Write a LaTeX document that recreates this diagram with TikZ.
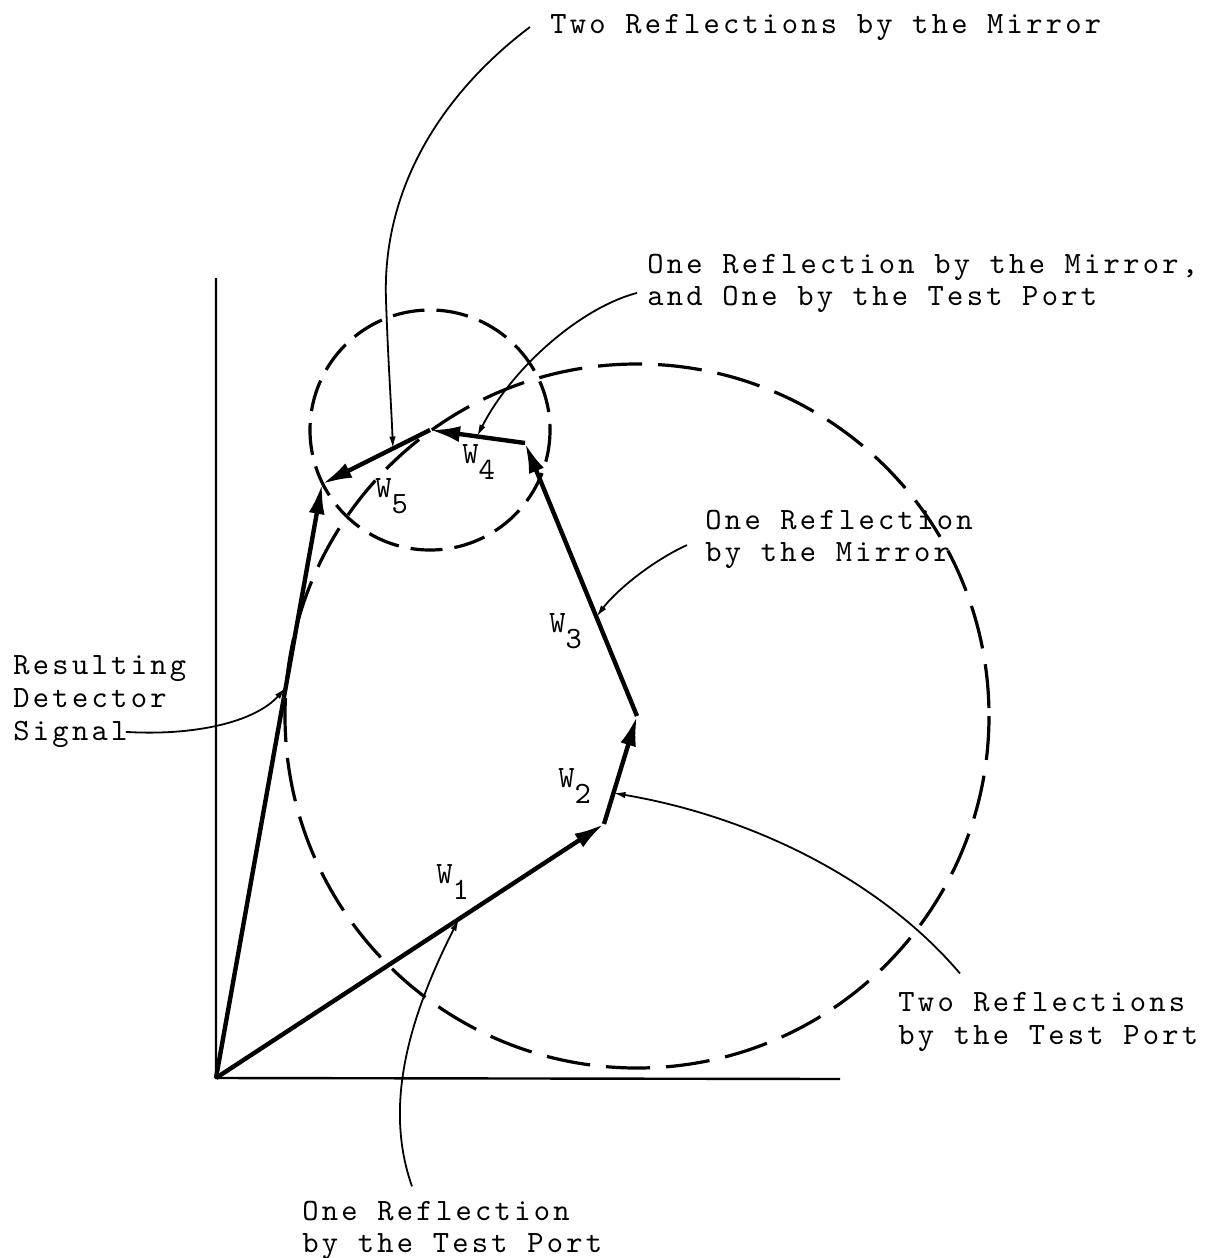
\documentclass[tikz,border=0pt]{standalone}
\usepackage{fontspec}
\newfontfamily\typew{lmmono10-regular}[Extension=.otf,LetterSpace=10.6]
\usetikzlibrary{arrows.meta,calc}
\begin{document}
\begin{tikzpicture}[x=0.5pt,y=-0.5pt,
  vec/.style={line width=2.2pt,line join=round,-{Latex[length=15pt,width=8pt]}},
  axisline/.style={line width=1.2pt},
  bigcircle/.style={line width=1.6pt,dash pattern=on 22pt off 8pt},
  smallcircle/.style={line width=1.6pt,dash pattern=on 16pt off 6pt},
  callout/.style={line width=0.9pt,-{Latex[length=6pt,width=3.2pt]}},
  lbl/.style={font=\typew\fontsize{15.5}{15.5}\selectfont,anchor=base west,inner sep=0pt},
  wlbl/.style={font=\typew\fontsize{15.5}{15.5}\selectfont,anchor=base west,inner sep=0pt}]
\useasboundingbox (0,0) rectangle (1224,1258);

% vector tips
\coordinate (O) at (216,1078);
\coordinate (P1) at (604,824);
\coordinate (P2) at (637,716);
\coordinate (P3) at (525,443);
\coordinate (P4) at (430,430);
\coordinate (P5) at (322,484);

% dashed circles
\draw[bigcircle] (P2) circle [radius=352];
\draw[smallcircle] (P4) circle [radius=120];

% axes
\coordinate (yend) at (216,278);
\coordinate (xend) at (840,1079);
\draw[axisline] (yend) -- (O) -- (xend);

% vectors
\draw[vec] (O) -- (P1);
\draw[vec] (P1) -- (P2);
\draw[vec] (P2) -- (P3);
\draw[vec] (P3) -- (P4);
\draw[vec] (P4) -- (P5);
\draw[vec] (O) -- (P5);

% vector labels
\node[wlbl] (w1) at (436,883) {W\raisebox{-8pt}{1}};
\node[wlbl] (w2) at (558,787) {W\raisebox{-8pt}{2}};
\node[wlbl] (w3) at (549,632) {W\raisebox{-8pt}{3}};
\node[wlbl] (w4) at (462,463) {W\raisebox{-8pt}{4}};
\node[wlbl] (w5) at (375,497) {W\raisebox{-8pt}{5}};

% texts
\node[lbl] (tm) at (550,33) {Two Reflections by the Mirror};
\node[lbl] (mt1) at (647,273) {One Reflection by the Mirror,};
\node[lbl] (mt2) at (647,305) {and One by the Test Port};
\node[lbl] (m1) at (705,529) {One Reflection};
\node[lbl] (m2) at (705,561) {by the Mirror};
\node[lbl] (r1) at (13,674) {Resulting};
\node[lbl] (r2) at (13,707) {Detector};
\node[lbl] (r3) at (13,740) {Signal};
\node[lbl] (tp1) at (898,1011) {Two Reflections};
\node[lbl] (tp2) at (898,1044) {by the Test Port};
\node[lbl] (op1) at (302,1220) {One Reflection};
\node[lbl] (op2) at (302,1252) {by the Test Port};

% callout targets on the vectors
\coordinate (c1) at ($(P4)!0.343!(P5)$);
\coordinate (c2) at ($(P3)!0.505!(P4)$);
\coordinate (c3) at ($(P2)!0.363!(P3)$);
\coordinate (c4) at ($(P1)!0.287!(P2)$);
\coordinate (c5) at ($(O)!0.626!(P1)$);
\coordinate (c6) at ($(O)!0.657!(P5)$);

% callouts
\draw[callout] ([xshift=-10pt]tm.west) .. controls (440,95) and (382,190) .. (386,300)
  .. controls (388,360) and (391,400) .. (c1);
\draw[callout] ([xshift=-5pt,yshift=3pt]mt2.west) .. controls (580,308) and (512,368) .. (c2);
\draw[callout] ([xshift=-9pt,yshift=5pt]m2.west) .. controls (650,562) and (615,592) .. (c3);
\draw[callout] ([xshift=31pt,yshift=9pt]tp1.north west) .. controls (885,885) and (760,818) .. (c4);
\draw[callout] ([xshift=55pt,yshift=7pt]op1.north west) .. controls (385,1110) and (405,1025) .. (c5);
\draw[callout] ([xshift=-1pt,yshift=1pt]r3.east) .. controls (195,736) and (255,722) .. (c6);
\end{tikzpicture}
\end{document}
